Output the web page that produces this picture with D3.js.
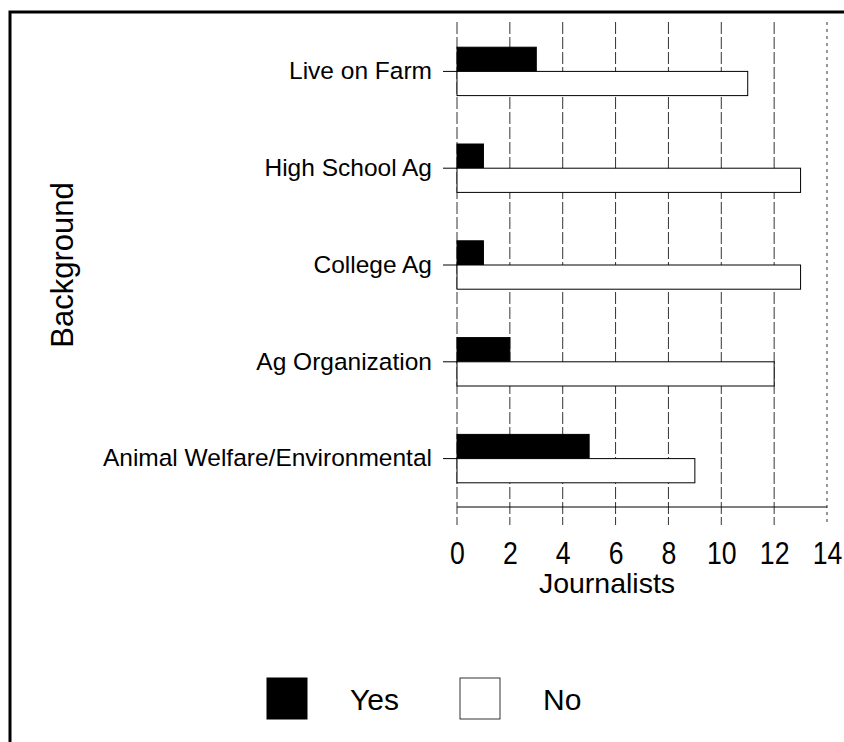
<!DOCTYPE html>
<html><head><meta charset="utf-8">
<script src="https://cdn.jsdelivr.net/npm/d3@7"></script>
<style>body{margin:0;background:#fff}svg{display:block}text{font-family:"Liberation Sans",Arial,sans-serif;fill:#000}</style>
</head><body><svg id="c" width="844" height="742"></svg>
<script>
const categories = ["Live on Farm","High School Ag","College Ag","Ag Organization","Animal Welfare/Environmental"];
const seriesNames = ["Yes","No"];
const yesValues = [3,1,1,2,5];
const noValues = [11,13,13,12,9];
const xTicks = [0,2,4,6,8,10,12,14];
const colors = {"Yes":"#000","No":"#fff"};

const svg = d3.select("#c");
// border
svg.append("path").attr("d","M10,742 V12 H844").attr("fill","none").attr("stroke","#000").attr("stroke-width",3);

const x = d3.scaleLinear().domain([0,14]).range([457,827]);
const y = d3.scaleBand().domain(categories).range([23,507]).paddingInner(0.5).paddingOuter(0.25);
const ySub = d3.scaleBand().domain(seriesNames).range([0,y.bandwidth()]);

// gridlines
svg.append("g").selectAll("line").data(xTicks).join("line")
  .attr("x1",d=>x(d)).attr("x2",d=>x(d)).attr("y1",22).attr("y2",525)
  .attr("stroke","#333").attr("stroke-width",1).attr("stroke-dasharray",d=>d===14?"3,4":"12,3");

// bars
const data = categories.map((c,i)=>({c, Yes:yesValues[i], No:noValues[i]}));
const g = svg.append("g");
seriesNames.forEach(s=>{
  g.selectAll(null).data(data).join("rect")
    .attr("x",x(0)).attr("y",d=>y(d.c)+ySub(s))
    .attr("width",d=>x(d[s])-x(0)).attr("height",ySub.bandwidth())
    .attr("fill",colors[s]).attr("stroke","#000").attr("stroke-width",1);
});

// baseline
svg.append("line").attr("x1",x(0)).attr("x2",x(14)).attr("y1",507).attr("y2",507).attr("stroke","#000").attr("stroke-width",1.2);

// y axis
const ya = svg.append("g").attr("transform",`translate(${x(0)},0)`)
  .call(d3.axisLeft(y).tickSize(14).tickPadding(11));
ya.select(".domain").remove();
ya.selectAll(".tick line").attr("stroke","#000").attr("stroke-width",1);
ya.selectAll(".tick text").attr("font-size",24.5).attr("font-family","Liberation Sans, Arial, sans-serif").attr("fill","#000");

// x axis labels
const xa = svg.append("g").attr("transform","translate(0,507)")
  .call(d3.axisBottom(x).tickValues(xTicks).tickSize(0).tickFormat(d3.format("d")));
xa.select(".domain").remove();
xa.selectAll(".tick text").attr("font-size",31).attr("font-family","Liberation Sans, Arial, sans-serif").attr("fill","#000")
  .attr("dy",0).attr("y",57).attr("transform","scale(0.86,1)");

svg.append("text").attr("x",607).attr("y",593).attr("text-anchor","middle").attr("font-size",28.5).text("Journalists");
svg.append("text").attr("transform","translate(73,265) rotate(-90)").attr("text-anchor","middle").attr("font-size",31).text("Background");

// legend
const leg = svg.append("g");
const legX = [267,460];
seriesNames.forEach((s,i)=>{
  leg.append("rect").attr("x",legX[i]).attr("y",678).attr("width",40).attr("height",41)
    .attr("fill",colors[s]).attr("stroke","#000").attr("stroke-width",s==="No"?0.8:1);
  leg.append("text").attr("x",legX[i]+83).attr("y",710).attr("font-size",30).text(s);
});
</script></body></html>
